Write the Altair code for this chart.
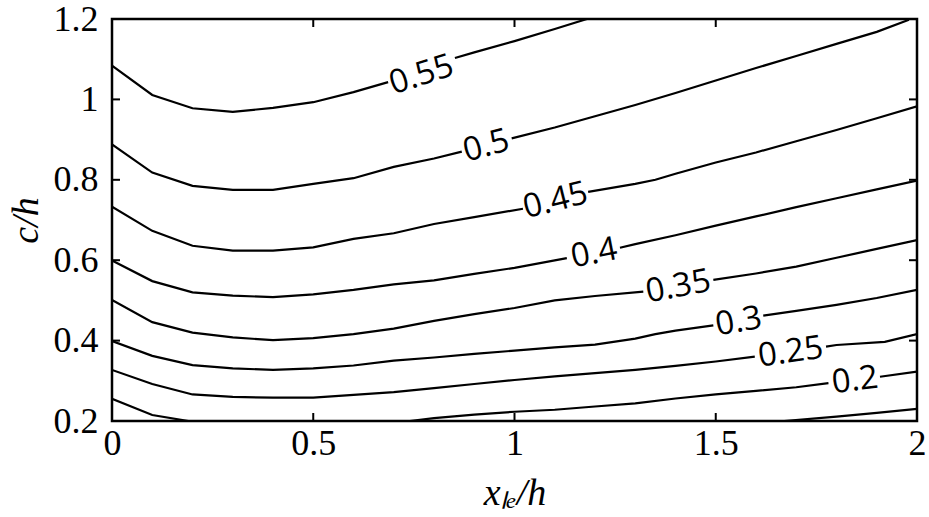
import altair as alt
import pandas as pd

# ---- contour polylines (x = x_le/h, y = c/h), split where the labels sit ----
c055_x1 = [0, 0.1, 0.2, 0.3, 0.4, 0.5, 0.6, 0.686]
c055_y1 = [1.084, 1.011, 0.978, 0.969, 0.979, 0.993, 1.018, 1.043]
c055_x2 = [0.852, 0.9, 1.0, 1.1, 1.18]
c055_y2 = [1.103, 1.117, 1.145, 1.175, 1.2]

c050_x1 = [0, 0.1, 0.2, 0.3, 0.4, 0.5, 0.6, 0.7, 0.8, 0.869]
c050_y1 = [0.888, 0.818, 0.785, 0.775, 0.775, 0.79, 0.804, 0.832, 0.853, 0.87]
c050_x2 = [0.993, 1.1, 1.2, 1.3, 1.4, 1.5, 1.6, 1.7, 1.8, 1.9, 1.98]
c050_y2 = [0.903, 0.93, 0.958, 0.986, 1.016, 1.047, 1.078, 1.108, 1.138, 1.168, 1.198]

c045_x1 = [0, 0.1, 0.2, 0.3, 0.4, 0.5, 0.6, 0.7, 0.8, 0.9, 1.021]
c045_y1 = [0.733, 0.673, 0.636, 0.624, 0.624, 0.632, 0.653, 0.667, 0.69, 0.707, 0.728]
c045_x2 = [1.183, 1.3, 1.35, 1.4, 1.5, 1.6, 1.7, 1.8, 1.9, 2.0]
c045_y2 = [0.77, 0.79, 0.80, 0.815, 0.843, 0.868, 0.896, 0.924, 0.953, 0.983]

c040_x1 = [0, 0.1, 0.2, 0.3, 0.4, 0.5, 0.6, 0.7, 0.8, 0.9, 1.0, 1.13]
c040_y1 = [0.599, 0.548, 0.52, 0.512, 0.508, 0.515, 0.526, 0.54, 0.55, 0.566, 0.581, 0.605]
c040_x2 = [1.262, 1.3, 1.4, 1.5, 1.6, 1.7, 1.8, 1.9, 2.0]
c040_y2 = [0.631, 0.64, 0.662, 0.686, 0.709, 0.732, 0.754, 0.776, 0.798]

c035_x1 = [0, 0.1, 0.2, 0.3, 0.4, 0.5, 0.6, 0.7, 0.8, 0.9, 1.0, 1.1, 1.2, 1.32]
c035_y1 = [0.501, 0.446, 0.42, 0.408, 0.401, 0.406, 0.416, 0.43, 0.449, 0.466, 0.481, 0.5, 0.511, 0.522]
c035_x2 = [1.494, 1.6, 1.7, 1.8, 1.9, 2.0]
c035_y2 = [0.551, 0.567, 0.584, 0.606, 0.628, 0.65]

c030_x1 = [0, 0.1, 0.2, 0.3, 0.4, 0.5, 0.6, 0.7, 0.8, 0.9, 1.0, 1.1, 1.2, 1.3, 1.35, 1.4, 1.494]
c030_y1 = [0.399, 0.362, 0.339, 0.331, 0.327, 0.331, 0.338, 0.35, 0.358, 0.367, 0.375, 0.383, 0.39, 0.405, 0.416, 0.425, 0.438]
c030_x2 = [1.618, 1.7, 1.8, 1.9, 2.0]
c030_y2 = [0.462, 0.474, 0.489, 0.506, 0.526]

c025_x1 = [0, 0.1, 0.2, 0.3, 0.4, 0.5, 0.6, 0.7, 0.8, 0.9, 1.0, 1.1, 1.2, 1.3, 1.4, 1.5, 1.597]
c025_y1 = [0.327, 0.292, 0.266, 0.26, 0.258, 0.258, 0.265, 0.272, 0.282, 0.292, 0.302, 0.311, 0.319, 0.327, 0.337, 0.348, 0.36]
c025_x2 = [1.774, 1.8, 1.92, 2.0]
c025_y2 = [0.385, 0.389, 0.397, 0.416]

c020_x1 = [0, 0.1, 0.19]
c020_y1 = [0.255, 0.215, 0.2]
c020_x2 = [0.74, 0.8, 0.9, 1.0, 1.1, 1.2, 1.3, 1.4, 1.5, 1.6, 1.7, 1.78]
c020_y2 = [0.2, 0.207, 0.216, 0.223, 0.228, 0.236, 0.244, 0.256, 0.266, 0.275, 0.284, 0.294]
c020_x3 = [1.908, 2.0]
c020_y3 = [0.31, 0.323]

c015_x1 = [1.67, 1.8, 1.9, 2.0]
c015_y1 = [0.2, 0.211, 0.22, 0.23]

segments = [
    ("0.55a", c055_x1, c055_y1), ("0.55b", c055_x2, c055_y2),
    ("0.5a", c050_x1, c050_y1), ("0.5b", c050_x2, c050_y2),
    ("0.45a", c045_x1, c045_y1), ("0.45b", c045_x2, c045_y2),
    ("0.4a", c040_x1, c040_y1), ("0.4b", c040_x2, c040_y2),
    ("0.35a", c035_x1, c035_y1), ("0.35b", c035_x2, c035_y2),
    ("0.3a", c030_x1, c030_y1), ("0.3b", c030_x2, c030_y2),
    ("0.25a", c025_x1, c025_y1), ("0.25b", c025_x2, c025_y2),
    ("0.2a", c020_x1, c020_y1), ("0.2b", c020_x2, c020_y2), ("0.2c", c020_x3, c020_y3),
    ("0.15a", c015_x1, c015_y1),
]

# ---- contour labels ----
label_text = ["0.55", "0.5", "0.45", "0.4", "0.35", "0.3", "0.25", "0.2"]
label_x = [0.769, 0.930, 1.102, 1.198, 1.407, 1.557, 1.686, 1.846]
label_y = [1.061, 0.884, 0.748, 0.617, 0.534, 0.447, 0.371, 0.301]
label_tilt = [18, 15, 14, 11, 10.5, 10, 8, 7]

x_ticks = [0, 0.5, 1, 1.5, 2]
y_ticks = [0.2, 0.4, 0.6, 0.8, 1.0, 1.2]
x_inner_ticks = [0.5, 1, 1.5]
y_inner_ticks = [0.4, 0.6, 0.8, 1.0]

rows = []
for seg, xs_, ys_ in segments:
    for i, (xv, yv) in enumerate(zip(xs_, ys_)):
        rows.append({"seg": seg, "ord": i, "x": xv, "y": yv})
lines_df = pd.DataFrame(rows)

labels_df = pd.DataFrame({
    "t": label_text, "x": label_x, "y": label_y,
    "ang": [360 - a for a in label_tilt],
})

W, H = 805, 402
xs = alt.Scale(domain=[0, 2], nice=False, zero=False)
ys = alt.Scale(domain=[0.2, 1.2], nice=False, zero=False)

serif = "Liberation Serif"

x_axis = alt.Axis(
    values=x_ticks, format="~g", title="xₗₑ/h", ticks=False, tickSize=0, domain=False,
    grid=False, labelFlush=False, labelOverlap=False, labelPadding=5,
    labelFont=serif, labelFontSize=36, labelColor="black",
    titleFont=serif, titleFontStyle="italic", titleFontWeight="normal", titleFontSize=38,
    titleColor="black", titleX=W / 2, titleY=72, titleBaseline="middle")
y_axis = alt.Axis(
    values=y_ticks, format="~g", title="c/h", ticks=False, tickSize=0, domain=False,
    grid=False, labelFlush=False, labelOverlap=False, labelPadding=14,
    labelFont=serif, labelFontSize=36, labelColor="black",
    titleFont=serif, titleFontStyle="italic", titleFontWeight="normal", titleFontSize=38,
    titleColor="black", titleX=-86, titleY=H / 2, titleAngle=270,
    titleBaseline="middle", titleAlign="center")

lines = alt.Chart(lines_df).mark_line(color="black", strokeWidth=2.2, clip=True).encode(
    x=alt.X("x:Q", scale=xs, axis=x_axis),
    y=alt.Y("y:Q", scale=ys, axis=y_axis),
    detail="seg:N",
    order="ord:Q",
)

labels = alt.Chart(labels_df).mark_text(
    font="Open Sans", fontSize=33, color="black", align="center", baseline="middle"
).encode(
    x=alt.X("x:Q", scale=xs, axis=x_axis),
    y=alt.Y("y:Q", scale=ys, axis=y_axis),
    text="t:N",
    angle=alt.Angle("ang:Q", scale=None),
)

tx = pd.DataFrame({"x": x_inner_ticks})
ty = pd.DataFrame({"y": y_inner_ticks})
tick_style = dict(color="black", strokeWidth=2)
t_bottom = alt.Chart(tx).mark_rule(**tick_style).encode(
    x=alt.X("x:Q", scale=xs, axis=x_axis), y=alt.value(H), y2=alt.value(H - 8))
t_top = alt.Chart(tx).mark_rule(**tick_style).encode(
    x=alt.X("x:Q", scale=xs, axis=x_axis), y=alt.value(0), y2=alt.value(8))
t_left = alt.Chart(ty).mark_rule(**tick_style).encode(
    y=alt.Y("y:Q", scale=ys, axis=y_axis), x=alt.value(0), x2=alt.value(8))
t_right = alt.Chart(ty).mark_rule(**tick_style).encode(
    y=alt.Y("y:Q", scale=ys, axis=y_axis), x=alt.value(W), x2=alt.value(W - 8))

chart = alt.layer(lines, labels, t_bottom, t_top, t_left, t_right).properties(
    width=W, height=H,
    background="white",
    autosize=alt.AutoSizeParams(type="none"),
    padding={"left": 112, "top": 19, "right": 12, "bottom": 96},
).configure_view(stroke="black", strokeWidth=2.5)

chart.save("out.html", embed_options={"renderer": "svg", "actions": False})
